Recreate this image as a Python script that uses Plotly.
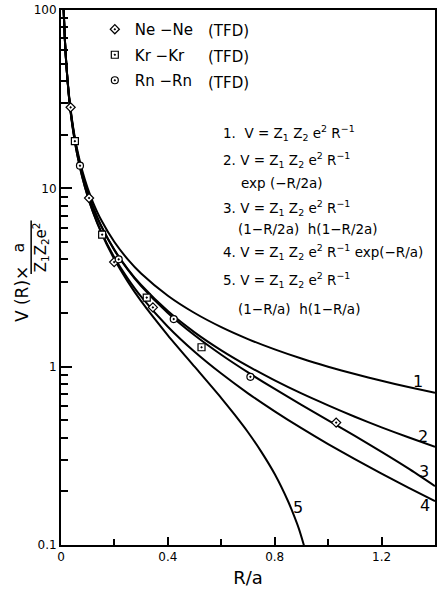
import plotly.graph_objects as go

# ---- data ----
x_curve = [0.0095, 0.01, 0.015, 0.02, 0.03, 0.04, 0.05, 0.06, 0.08, 0.1,
           0.12, 0.15, 0.2, 0.25, 0.3, 0.4, 0.5, 0.6, 0.7, 0.8,
           0.9, 1.0, 1.1, 1.2, 1.3, 1.4]
v1 = [105.3, 100, 66.7, 50, 33.3, 25, 20, 16.7, 12.5, 10,
      8.33, 6.67, 5, 4, 3.33, 2.5, 2, 1.667, 1.429, 1.25,
      1.111, 1, 0.909, 0.833, 0.769, 0.714]
v2 = [104.8, 99.5, 66.2, 49.5, 32.8, 24.5, 19.5, 16.17, 12.01, 9.51,
      7.85, 6.18, 4.52, 3.53, 2.87, 2.05, 1.558, 1.235, 1.007, 0.838,
      0.708, 0.607, 0.524, 0.457, 0.402, 0.355]
v3 = [104.8, 99.5, 66.2, 49.5, 32.8, 24.5, 19.5, 16.17, 12.0, 9.5,
      7.83, 6.17, 4.5, 3.5, 2.83, 2.0, 1.5, 1.167, 0.929, 0.75,
      0.611, 0.5, 0.409, 0.333, 0.269, 0.214]
v4 = [104.3, 99.0, 65.7, 49.0, 32.3, 24.0, 19.0, 15.7, 11.54, 9.05,
      7.39, 5.74, 4.09, 3.12, 2.47, 1.676, 1.213, 0.915, 0.709, 0.562,
      0.452, 0.368, 0.303, 0.251, 0.210, 0.176]
x_curve5 = [0.0095, 0.01, 0.015, 0.02, 0.03, 0.04, 0.05, 0.06, 0.08, 0.1,
            0.12, 0.15, 0.2, 0.25, 0.3, 0.4, 0.5, 0.6, 0.65, 0.7,
            0.75, 0.8, 0.85, 0.87, 0.89, 0.909, 0.92]
v5 = [104.3, 99, 65.7, 49, 32.3, 24, 19, 15.7, 11.5, 9,
      7.33, 5.67, 4, 3, 2.33, 1.5, 1.0, 0.667, 0.538, 0.429,
      0.333, 0.25, 0.176, 0.149, 0.124, 0.100, 0.087]

ne_x = [0.036, 0.105, 0.199, 0.344, 1.030]
ne_y = [28.5, 8.83, 3.86, 2.15, 0.486]
kr_x = [0.052, 0.154, 0.321, 0.526]
kr_y = [18.4, 5.5, 2.44, 1.285]
rn_x = [0.071, 0.216, 0.422, 0.709]
rn_y = [13.4, 4.0, 1.85, 0.877]

series_names = ["Ne \u2212Ne", "Kr \u2212Kr", "Rn \u2212Rn"]
x_tickvals = [0, 0.4, 0.8, 1.2]
x_ticktext = ["0", "0.4", "0.8", "1.2"]
y_tickvals = [0.1, 1, 10, 100]
y_ticktext = ["0.1", "1", "10", "100"]

FONT = "DejaVu Sans"
W, H = 440, 595
L, R, T, B = 61, 3, 6, 50
PW, PH = W - L - R, H - T - B


def px(x):
    return (x - L) / PW


def py(y):
    return (H - B - y) / PH


fig = go.Figure()
for xs, ys in [(x_curve, v1), (x_curve, v2), (x_curve, v3), (x_curve, v4), (x_curve5, v5)]:
    fig.add_trace(go.Scatter(x=xs, y=ys, mode="lines", showlegend=False,
                             line=dict(color="black", width=2, shape="spline", smoothing=0.6),
                             hoverinfo="skip"))

for name, xs, ys, sym, grp in [(series_names[0], ne_x, ne_y, "diamond-dot", "a"),
                               (series_names[1], kr_x, kr_y, "square-dot", "b"),
                               (series_names[2], rn_x, rn_y, "circle-dot", "c")]:
    fig.add_trace(go.Scatter(x=xs, y=ys, mode="markers", name=name, legendgroup=grp,
                             marker=dict(symbol=sym, size=7, color="white",
                                         line=dict(color="black", width=1.2))))

ann = []
# (TFD) labels next to legend entries
for yy in [27, 53, 80]:
    ann.append(dict(text="(TFD)", x=px(207), y=py(yy), xref="paper", yref="paper",
                    xanchor="left", yanchor="middle", showarrow=False,
                    font=dict(family=FONT, size=15, color="black")))

formula_lines = [
    (222, 130, "1.  V = Z<sub>1</sub> Z<sub>2</sub> e<sup>2</sup> R<sup>\u22121</sup>"),
    (222, 157, "2. V = Z<sub>1</sub> Z<sub>2</sub> e<sup>2</sup> R<sup>\u22121</sup>"),
    (240, 180, "exp (\u2212R/2a)"),
    (222, 205, "3. V = Z<sub>1</sub> Z<sub>2</sub> e<sup>2</sup> R<sup>\u22121</sup>"),
    (237, 227, "(1\u2212R/2a)  h(1\u2212R/2a)"),
    (222, 250, "4. V = Z<sub>1</sub> Z<sub>2</sub> e<sup>2</sup> R<sup>\u22121</sup> exp(\u2212R/a)"),
    (222, 278, "5. V = Z<sub>1</sub> Z<sub>2</sub> e<sup>2</sup> R<sup>\u22121</sup>"),
    (237, 307, "(1\u2212R/a)  h(1\u2212R/a)"),
]
for x0, y0, t in formula_lines:
    ann.append(dict(text=t, x=px(x0), y=py(y0), xref="paper", yref="paper",
                    xanchor="left", yanchor="middle", showarrow=False,
                    font=dict(family=FONT, size=13.5, color="black")))

# curve number labels
for t, x0, y0 in [("1", 420, 380), ("2", 425, 436), ("3", 426, 471), ("4", 427, 505), ("5", 299, 507)]:
    ann.append(dict(text=t, x=px(x0), y=py(y0), xref="paper", yref="paper",
                    xanchor="center", yanchor="middle", showarrow=False,
                    font=dict(family=FONT, size=16, color="black")))

# y-axis title pieces
ann.append(dict(text="V (R)\u00d7", x=px(22), y=py(292), xref="paper", yref="paper",
                xanchor="center", yanchor="middle", textangle=-90, showarrow=False,
                font=dict(family=FONT, size=17, color="black")))
ann.append(dict(text="a", x=px(18), y=py(245), xref="paper", yref="paper",
                xanchor="center", yanchor="middle", textangle=-90, showarrow=False,
                font=dict(family=FONT, size=16, color="black")))
ann.append(dict(text="Z<sub>1</sub>Z<sub>2</sub>e<sup>2</sup>", x=px(40), y=py(245),
                xref="paper", yref="paper", xanchor="center", yanchor="middle",
                textangle=-90, showarrow=False,
                font=dict(family=FONT, size=15, color="black")))

shapes = [dict(type="line", xref="paper", yref="paper", x0=px(31), x1=px(31),
               y0=py(218), y1=py(272), line=dict(color="black", width=1.5))]

fig.update_layout(
    width=W, height=H,
    margin=dict(l=L, r=R, t=T, b=B),
    paper_bgcolor="white", plot_bgcolor="white",
    font=dict(family=FONT, color="black"),
    annotations=ann, shapes=shapes,
    legend=dict(x=px(95), y=py(9), xanchor="left", yanchor="top",
                font=dict(family=FONT, size=15, color="black"),
                bgcolor="rgba(0,0,0,0)", borderwidth=0, tracegroupgap=3,
                itemclick=False),
    xaxis=dict(range=[0, 1.4], showgrid=False, zeroline=False,
               showline=True, linecolor="black", linewidth=2, mirror=True,
               ticks="inside", ticklen=8, tickwidth=1.5, tickcolor="black",
               tickvals=x_tickvals, ticktext=x_ticktext,
               tickfont=dict(family=FONT, size=12, color="black"),
               minor=dict(tickvals=[0.2, 0.6, 1.0], ticks="inside", ticklen=6,
                          tickwidth=1.5, tickcolor="black", showgrid=False),
               title=dict(text="R/a", font=dict(family=FONT, size=18, color="black"), standoff=8)),
    yaxis=dict(type="log", range=[-1, 2.0004], showgrid=False, zeroline=False,
               showline=True, linecolor="black", linewidth=2, mirror=True,
               ticks="inside", ticklen=11, tickwidth=1.5, tickcolor="black",
               tickvals=y_tickvals, ticktext=y_ticktext, ticklabeloverflow="allow",
               tickfont=dict(family=FONT, size=12, color="black"),
               minor=dict(tickvals=[0.2, 0.3, 0.4, 0.5, 0.6, 0.7, 0.8, 0.9,
                                    2, 3, 4, 5, 6, 7, 8, 9,
                                    20, 30, 40, 50, 60, 70, 80, 90],
                          ticks="inside", ticklen=7, tickwidth=1.5,
                          tickcolor="black", showgrid=False)),
)

fig.write_html("out.html")
